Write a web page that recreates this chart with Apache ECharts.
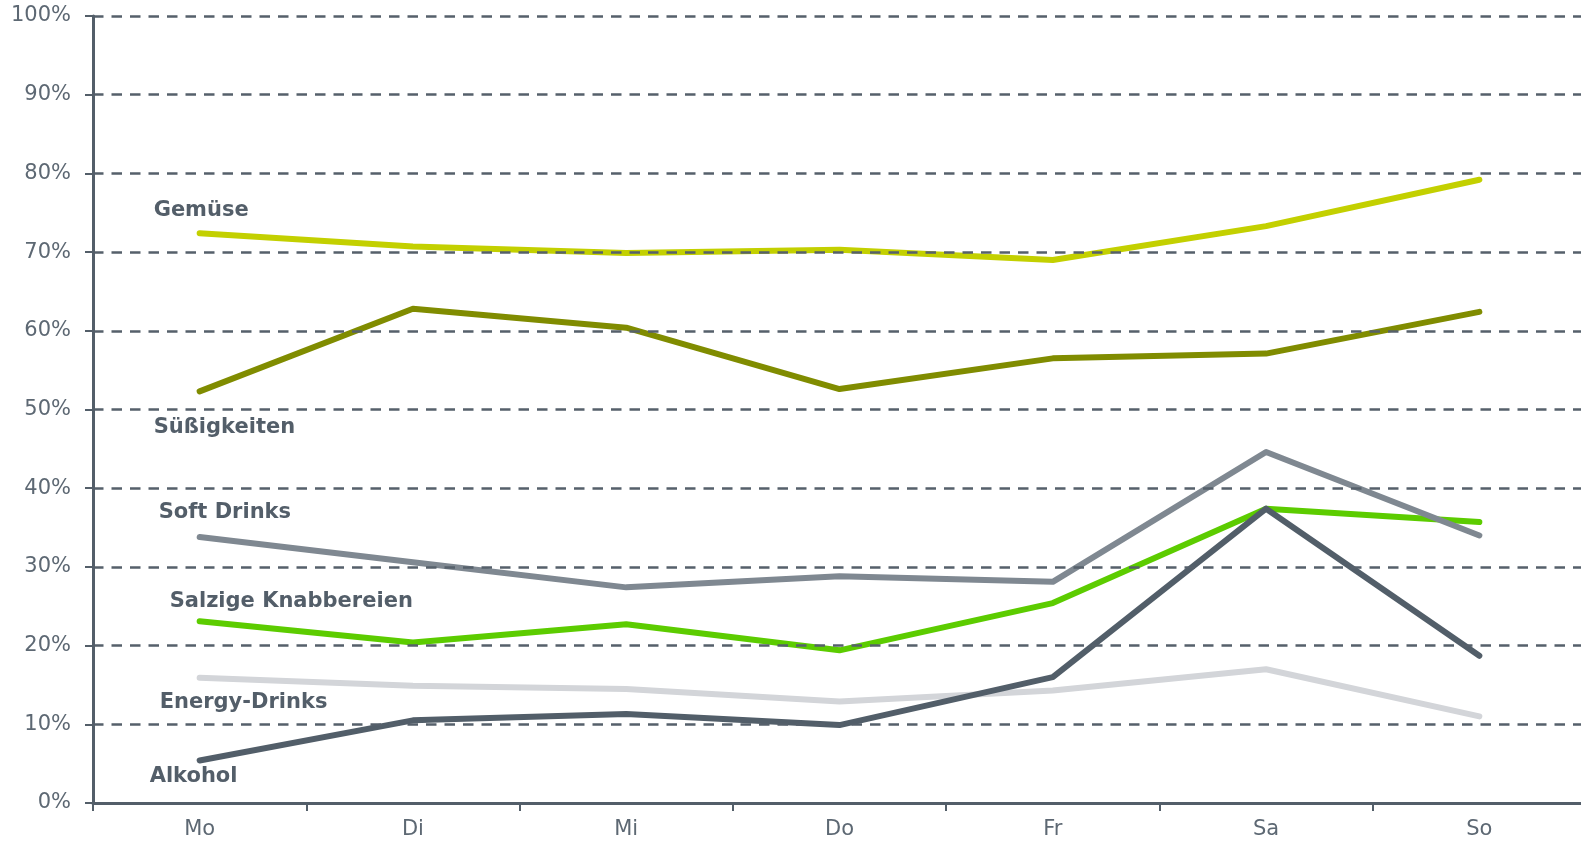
<!DOCTYPE html>
<html>
<head>
<meta charset="utf-8">
<script src="https://cdn.jsdelivr.net/npm/echarts@6/dist/echarts.min.js"></script>
<style>
  html, body { margin: 0; padding: 0; background: #ffffff; }
  #chart { width: 1581px; height: 842px; }
</style>
</head>
<body>
<div id="chart"></div>
<script>
// ---- Data ----
const categories = ['Mo', 'Di', 'Mi', 'Do', 'Fr', 'Sa', 'So'];
const gemuese      = [72.4, 70.7, 69.9, 70.3, 69.0, 73.3, 79.2];
const suessigkeiten = [52.3, 62.8, 60.4, 52.6, 56.5, 57.1, 62.4];
const softDrinks   = [33.8, 30.6, 27.4, 28.8, 28.1, 44.6, 34.0];
const salzige      = [23.1, 20.4, 22.7, 19.4, 25.4, 37.4, 35.7];
const energyDrinks = [15.9, 14.9, 14.5, 12.9, 14.3, 17.0, 11.0];
const alkohol      = [5.4, 10.5, 11.3, 9.9, 16.0, 37.4, 18.7];
const yTicks = { min: 0, max: 100, interval: 10 };

const FONT = 'DejaVu Sans';
const TEXT = '#5d6873';
const AXIS = '#535e69';

function mkSeries(name, data, color, labelOffset) {
  return {
    name: name,
    type: 'line',
    data: data.map(function (v, i) {
      if (i === 0) {
        return {
          value: v,
          label: {
            show: true,
            formatter: name,
            position: 'inside',
            align: 'left',
            verticalAlign: 'middle',
            offset: labelOffset,
            fontFamily: FONT,
            fontWeight: 'bold',
            fontSize: 21,
            color: '#535e69'
          }
        };
      }
      return v;
    }),
    symbol: 'circle',
    symbolSize: 0,
    showSymbol: true,
    lineStyle: { color: color, width: 6, cap: 'round', join: 'round' },
    itemStyle: { color: color },
    emphasis: { disabled: true },
    z: 2
  };
}

const chart = echarts.init(document.getElementById('chart'), null, { renderer: 'canvas' });
chart.setOption({
  animation: false,
  backgroundColor: '#ffffff',
  grid: { left: 93, right: -5, top: 16, bottom: 39, containLabel: false, outerBoundsMode: 'none' },
  xAxis: {
    type: 'category',
    data: categories,
    boundaryGap: true,
    z: 3,
    axisLine: { lineStyle: { color: AXIS, width: 3 } },
    axisTick: { show: true, length: 8, lineStyle: { color: AXIS, width: 2 } },
    axisLabel: { fontFamily: FONT, fontSize: 21, color: TEXT, margin: 16 },
    splitLine: { show: false }
  },
  yAxis: {
    type: 'value',
    min: yTicks.min,
    max: yTicks.max,
    interval: yTicks.interval,
    z: 3,
    axisLine: { show: true, lineStyle: { color: AXIS, width: 3 } },
    axisTick: { show: true, length: 8, lineStyle: { color: AXIS, width: 2 } },
    axisLabel: { fontFamily: FONT, fontSize: 21, color: TEXT, margin: 22, formatter: '{value}%' },
    splitLine: { show: true, lineStyle: { color: '#56606b', width: 2.5, type: [10.5, 8] } }
  },
  series: [
    mkSeries('Energy-Drinks', energyDrinks, '#d3d5d9', [-40, 25]),
    mkSeries('Salzige Knabbereien', salzige, '#5ccc00', [-30, -20]),
    mkSeries('Soft Drinks', softDrinks, '#7f8891', [-41, -24]),
    mkSeries('Alkohol', alkohol, '#525e69', [-50, 16]),
    mkSeries('Süßigkeiten', suessigkeiten, '#808c00', [-46, 36]),
    mkSeries('Gemüse', gemuese, '#c3d000', [-46, -23])
  ]
});
</script>
</body>
</html>
